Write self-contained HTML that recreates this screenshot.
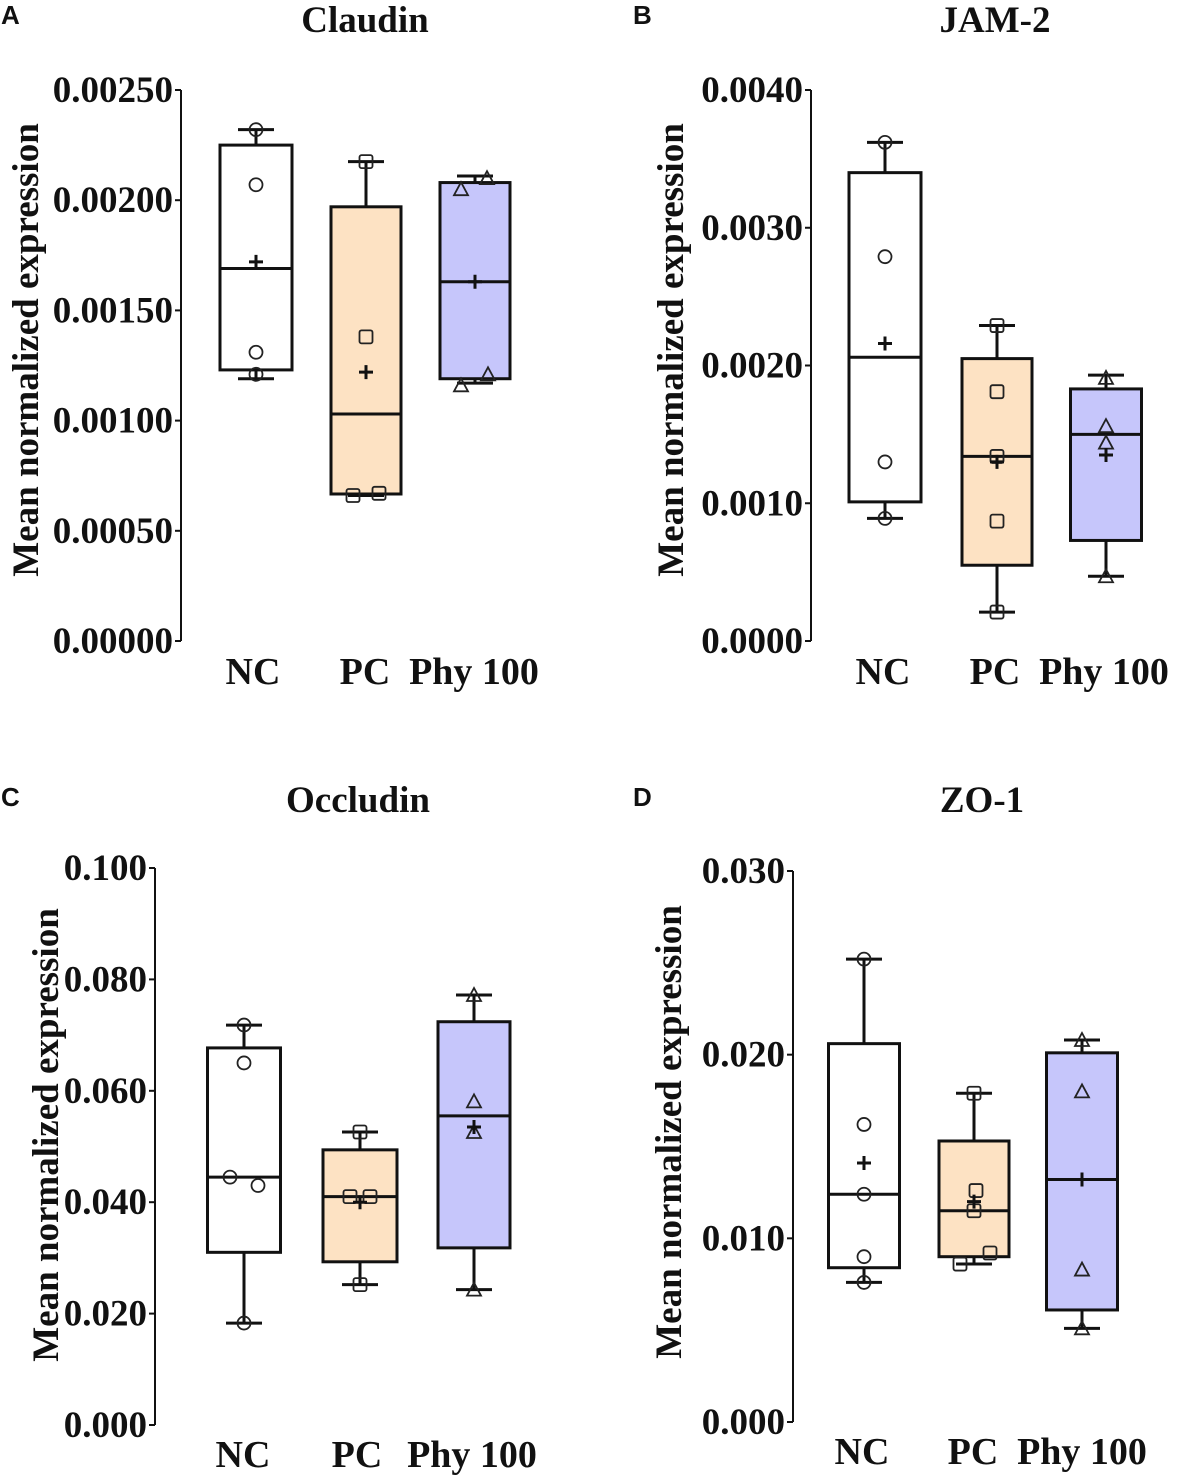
<!DOCTYPE html>
<html><head><meta charset="utf-8"><style>
html,body{margin:0;padding:0;background:#fff;}
svg{display:block;}
text{font-family:"Liberation Serif",serif;font-weight:bold;fill:#111;}
.pl{font-family:"Liberation Sans",sans-serif;}
</style></head><body>
<svg id="fig" width="1181" height="1480" viewBox="0 0 1181 1480" xmlns="http://www.w3.org/2000/svg"></svg>
<script>
// ---- data ----
const categories = ["NC","PC","Phy 100"];
const panelLetters = ["A","B","C","D"];
const panelTitles = ["Claudin","JAM-2","Occludin","ZO-1"];
const ticksA = [0,0.0005,0.001,0.0015,0.002,0.0025];
const tickLabelsA = ["0.00000","0.00050","0.00100","0.00150","0.00200","0.00250"];
const ticksB = [0,0.001,0.002,0.003,0.004];
const tickLabelsB = ["0.0000","0.0010","0.0020","0.0030","0.0040"];
const ticksC = [0,0.02,0.04,0.06,0.08,0.1];
const tickLabelsC = ["0.000","0.020","0.040","0.060","0.080","0.100"];
const ticksD = [0,0.01,0.02,0.03];
const tickLabelsD = ["0.000","0.010","0.020","0.030"];
// summary per group: [min, q1, median, q3, max]
const boxA = [[0.00119,0.00123,0.00169,0.00225,0.00232],[0.00066,0.000667,0.00103,0.00197,0.002175],[0.00117,0.00119,0.00163,0.00208,0.00211]];
const meanA = [0.00172,0.00122,0.00163];
const pointsA = [[0.00232,0.00207,0.00131,0.00121],[0.002175,0.00138,0.00066,0.00067],[0.0021,0.00205,0.00121,0.00116]];
const boxB = [[0.00089,0.00101,0.00206,0.0034,0.00362],[0.00021,0.00055,0.00134,0.00205,0.00229],[0.00047,0.00073,0.00150,0.00183,0.00193]];
const meanB = [0.00216,0.0013,0.00135];
const pointsB = [[0.00362,0.00279,0.0013,0.00089],[0.00229,0.00181,0.00134,0.00087,0.00021],[0.00191,0.00156,0.00144,0.00047]];
const boxC = [[0.0183,0.031,0.0445,0.0677,0.0718],[0.0252,0.0293,0.041,0.0494,0.0526],[0.0243,0.0318,0.0555,0.0724,0.0772]];
const meanC = [null,0.040,0.0535];
const pointsC = [[0.0718,0.065,0.0445,0.043,0.0183],[0.0526,0.041,0.041,0.0252],[0.0772,0.0581,0.0526,0.0243]];
const boxD = [[0.0076,0.0084,0.0124,0.0206,0.0252],[0.0086,0.009,0.0115,0.0153,0.0179],[0.0051,0.0061,0.0132,0.0201,0.0208]];
const meanD = [0.0141,0.012,0.0132];
const pointsD = [[0.0252,0.0162,0.0124,0.009,0.0076],[0.0179,0.0126,0.0115,0.0092,0.0086],[0.0208,0.018,0.0083,0.0051]];

// ---- layout (positions, not data) ----
const panels = [
 {ax:181,top:90,bot:641,max:0.0025,ticks:ticksA,labels:tickLabelsA,box:boxA,mean:meanA,pts:pointsA,cx:[256,366,475],bw:[72,70,70],catY:684,catX:[253,365,474],ylx:25,yly:350,tx:365,ty:32,lx:1,ly:24,jit:[[0,0,0,0],[0,0,-13,13],[12,-14,13,-14]]},
 {ax:811,top:90,bot:641,max:0.004,ticks:ticksB,labels:tickLabelsB,box:boxB,mean:meanB,pts:pointsB,cx:[885,997,1106],bw:[72,70,71],catY:684,catX:[883,995,1104],ylx:670,yly:350,tx:995,ty:32,lx:633,ly:24,jit:[[0,0,0,0],[0,0,0,0,0],[0,0,0,0]]},
 {ax:155,top:868,bot:1425,max:0.1,ticks:ticksC,labels:tickLabelsC,box:boxC,mean:meanC,pts:pointsC,cx:[244,360,474],bw:[73,74,72],catY:1467,catX:[243,357,472],ylx:45,yly:1135,tx:358,ty:812,lx:1,ly:806,jit:[[0,0,-14,14,0],[0,-10,10,0],[0,0,0,0]]},
 {ax:793,top:871,bot:1422,max:0.03,ticks:ticksD,labels:tickLabelsD,box:boxD,mean:meanD,pts:pointsD,cx:[864,974,1082],bw:[71,70,71],catY:1464,catX:[862,973,1082],ylx:668,yly:1132,tx:982,ty:812,lx:633,ly:806,jit:[[0,0,0,0,0],[0,2,0,16,-14],[0,0,0,0]]}
];
const fills = ["#ffffff","#fde2c3","#c6c6fb"];
const svg = document.getElementById('fig');
const NS = "http://www.w3.org/2000/svg";
function mk(tag, attrs, parent){
  const e = document.createElementNS(NS, tag);
  for (const k in attrs) e.setAttribute(k, attrs[k]);
  parent.appendChild(e); return e;
}
panels.forEach((p, pi) => {
  const g = mk('g', {}, svg);
  
  
  const y = v => p.bot - (v / p.max) * (p.bot - p.top);
  const L = mk('text', {x:p.lx, y:p.ly, 'font-size':26, class:'pl'}, g);
  L.textContent = panelLetters[pi];
  
  
  const T = mk('text', {x:p.tx, y:p.ty, 'font-size':37, 'text-anchor':'middle'}, g);
  T.textContent = panelTitles[pi];
  
  
  const YL = mk('text', {x:0, y:0, 'font-size':37, 'text-anchor':'middle', transform:`translate(${p.ylx+13},${p.yly}) rotate(-90)`}, g);
  YL.textContent = 'Mean normalized expression';
  
  
  const ax = mk('line', {x1:p.ax, x2:p.ax, y1:p.top, y2:p.bot, stroke:'#111', 'stroke-width':2}, g);
  
  
  p.ticks.forEach((t, i) => {
    const tk = mk('line', {x1:p.ax-6, x2:p.ax, y1:y(t), y2:y(t), stroke:'#111', 'stroke-width':2}, g);
    
    
    const tl = mk('text', {x:p.ax-8, y:y(t)+12, 'font-size':37, 'text-anchor':'end'}, g);
    tl.textContent = p.labels[i];
    
    
  });
  categories.forEach((c, ci) => {
    const cl = mk('text', {x:p.catX[ci], y:p.catY, 'font-size':38, 'text-anchor':'middle'}, g);
    cl.textContent = c;
    
    
    const b = p.box[ci], cx = p.cx[ci], hw = p.bw[ci] / 2;
    const bg = mk('g', {}, g);
    
    
    mk('line', {x1:cx, x2:cx, y1:y(b[4]), y2:y(b[0]), stroke:'#111', 'stroke-width':3}, bg);
    mk('line', {x1:cx-18, x2:cx+18, y1:y(b[4]), y2:y(b[4]), stroke:'#111', 'stroke-width':3}, bg);
    mk('line', {x1:cx-18, x2:cx+18, y1:y(b[0]), y2:y(b[0]), stroke:'#111', 'stroke-width':3}, bg);
    mk('rect', {x:cx-hw, y:y(b[3]), width:2*hw, height:y(b[1])-y(b[3]), fill:fills[ci], stroke:'#111', 'stroke-width':3}, bg);
    mk('line', {x1:cx-hw, x2:cx+hw, y1:y(b[2]), y2:y(b[2]), stroke:'#111', 'stroke-width':3}, bg);
    p.pts[ci].forEach((v, k) => {
      const px = cx + (p.jit[ci][k] || 0), py = y(v);
      let m;
      if (ci === 0) m = mk('circle', {cx:px, cy:py, r:6.5, fill:'none', stroke:'#222', 'stroke-width':1.8}, bg);
      else if (ci === 1) m = mk('rect', {x:px-6.5, y:py-6.5, width:13, height:13, rx:2, fill:'none', stroke:'#222', 'stroke-width':1.8}, bg);
      else m = mk('polygon', {points:`${px},${py-7} ${px-7},${py+6} ${px+7},${py+6}`, fill:'none', stroke:'#222', 'stroke-width':1.8}, bg);
      
      
    });
    const mv = p.mean[ci];
    if (mv !== null) {
      const my = y(mv);
      const mm = mk('path', {d:`M${cx-7},${my}H${cx+7}M${cx},${my-7}V${my+7}`, stroke:'#111', 'stroke-width':3}, bg);
      
      
    }
  });
});
</script>
</body></html>
